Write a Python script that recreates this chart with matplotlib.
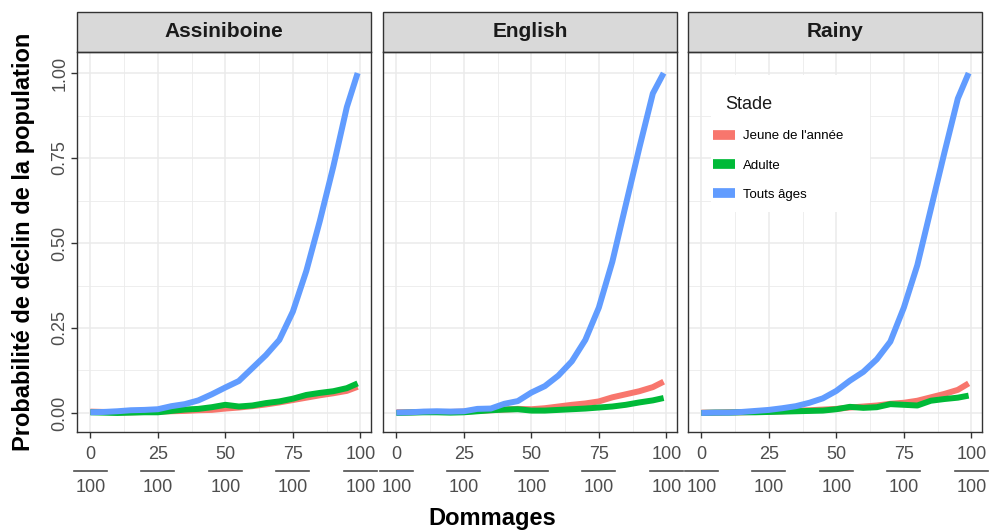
import matplotlib.pyplot as plt
import matplotlib.transforms as mtransforms
from matplotlib.patches import Rectangle
from matplotlib.lines import Line2D

plt.rcParams['font.family'] = ['Liberation Sans', 'DejaVu Sans']

# Dommages (sur 100) et probabilités de déclin par rivière et par stade
dommages = [0, 5, 10, 15, 20, 25, 30, 35, 40, 45, 50, 55, 60, 65, 70, 75, 80, 85, 90, 95, 99]
rivieres = ['Assiniboine', 'English', 'Rainy']
stades = ["Jeune de l'année", 'Adulte', 'Touts âges']
couleurs = ['#F8766D', '#00BA38', '#619CFF']

assiniboine_jeune = [0.004, 0.003, 0.002, 0.002, 0.003, 0.004, 0.005, 0.006, 0.008, 0.009, 0.013,
                     0.016, 0.020, 0.025, 0.031, 0.038, 0.045, 0.052, 0.058, 0.065, 0.077]
assiniboine_adulte = [0.002, 0.001, 0.000, 0.001, 0.002, 0.002, 0.006, 0.010, 0.012, 0.017, 0.024,
                      0.019, 0.022, 0.029, 0.034, 0.042, 0.053, 0.059, 0.064, 0.073, 0.087]
assiniboine_tous = [0.002, 0.003, 0.005, 0.008, 0.009, 0.011, 0.020, 0.026, 0.037, 0.055, 0.075,
                    0.094, 0.132, 0.170, 0.215, 0.298, 0.418, 0.565, 0.725, 0.900, 1.000]

english_jeune = [0.002, 0.002, 0.003, 0.003, 0.003, 0.004, 0.006, 0.008, 0.010, 0.012, 0.011,
                 0.014, 0.019, 0.024, 0.028, 0.034, 0.046, 0.055, 0.064, 0.076, 0.092]
english_adulte = [0.000, 0.001, 0.002, 0.002, 0.001, 0.002, 0.005, 0.008, 0.010, 0.011, 0.007,
                  0.007, 0.009, 0.011, 0.013, 0.016, 0.019, 0.024, 0.031, 0.037, 0.044]
english_tous = [0.001, 0.002, 0.004, 0.005, 0.004, 0.005, 0.012, 0.013, 0.027, 0.035, 0.060,
                0.079, 0.110, 0.152, 0.215, 0.310, 0.445, 0.613, 0.780, 0.940, 1.000]

rainy_jeune = [0.001, 0.001, 0.002, 0.002, 0.003, 0.004, 0.005, 0.007, 0.008, 0.010, 0.012,
               0.016, 0.019, 0.022, 0.027, 0.030, 0.036, 0.046, 0.056, 0.068, 0.087]
rainy_adulte = [0.000, 0.001, 0.001, 0.002, 0.002, 0.003, 0.004, 0.005, 0.006, 0.007, 0.011,
                0.018, 0.015, 0.017, 0.026, 0.024, 0.022, 0.036, 0.041, 0.045, 0.051]
rainy_tous = [0.000, 0.001, 0.001, 0.003, 0.006, 0.009, 0.014, 0.020, 0.030, 0.043, 0.065,
              0.095, 0.121, 0.158, 0.210, 0.310, 0.435, 0.600, 0.765, 0.925, 1.000]

series = {
    'Assiniboine': [assiniboine_jeune, assiniboine_adulte, assiniboine_tous],
    'English': [english_jeune, english_adulte, english_tous],
    'Rainy': [rainy_jeune, rainy_adulte, rainy_tous],
}

x_ticks = [0, 25, 50, 75, 100]
y_ticks = [0.0, 0.25, 0.5, 0.75, 1.0]
y_labels = ['0.00', '0.25', '0.50', '0.75', '1.00']

fig = plt.figure(figsize=(9.9, 5.31), dpi=100)

W, H = 990, 531
panel_left = [77, 383, 688]
panel_w = 294
panel_top, panel_bot = 52, 432
strip_h = 40 / (panel_bot - panel_top)

axes = []
for i, riv in enumerate(rivieres):
    ax = fig.add_axes([panel_left[i] / W, (H - panel_bot) / H,
                       panel_w / W, (panel_bot - panel_top) / H])
    axes.append(ax)
    ax.set_xlim(-4.95, 103.95)
    ax.set_ylim(-0.056, 1.062)
    ax.set_axisbelow(True)

    ax.set_xticks(x_ticks)
    ax.set_xticks([12.5, 37.5, 62.5, 87.5], minor=True)
    ax.set_yticks(y_ticks)
    ax.set_yticks([0.125, 0.375, 0.625, 0.875], minor=True)
    ax.grid(which='major', color='#EBEBEB', lw=1.1)
    ax.grid(which='minor', color='#EBEBEB', lw=0.6)
    ax.tick_params(which='minor', length=0)
    ax.tick_params(axis='x', length=4, width=1, color='#333333',
                   labelcolor='#4D4D4D', labelsize=13, pad=6)
    ax.set_xticklabels([str(t) for t in x_ticks])

    if i == 0:
        ax.tick_params(axis='y', length=4, width=1, color='#333333',
                       labelcolor='#4D4D4D', labelsize=13, pad=2)
        ax.set_yticklabels(y_labels, rotation=90, va='center')
    else:
        ax.tick_params(axis='y', length=0, labelleft=False)

    for s in ax.spines.values():
        s.set_color('#333333')
        s.set_linewidth(1.0)

    # dénominateur des fractions sous chaque graduation
    trans = mtransforms.blended_transform_factory(ax.transData, ax.transAxes)
    for t in x_ticks:
        ax.plot([t - 6.1, t + 6.1], [-0.103, -0.103], transform=trans,
                color='#4D4D4D', lw=1.2, clip_on=False)
        ax.text(t, -0.147, '100', transform=trans, ha='center', va='center',
                fontsize=13, color='#4D4D4D')

    # bandeau du titre de facette
    ax.add_patch(Rectangle((0, 1), 1, strip_h, transform=ax.transAxes,
                           facecolor='#D9D9D9', edgecolor='#333333', lw=1.0,
                           clip_on=False))
    ax.text(0.5, 1 + strip_h / 2, riv, transform=ax.transAxes, ha='center',
            va='center', fontsize=15, fontweight='bold', color='#1A1A1A')

    for vals, c in zip(series[riv], couleurs):
        ax.plot(dommages, vals, color=c, lw=4.3, solid_capstyle='butt',
                solid_joinstyle='round', zorder=3)

# légende dans le panneau Rainy
ax3 = axes[2]
ax3.add_patch(Rectangle((0.078, 0.579), 0.541, 0.36, transform=ax3.transAxes,
                        facecolor='white', edgecolor='none', zorder=1))
ax3.text(0.126, 0.861, 'Stade', transform=ax3.transAxes, ha='left', va='center',
         fontsize=13, color='#1A1A1A', zorder=4)
handles = [Line2D([], [], color=c, lw=7, solid_capstyle='butt') for c in couleurs]
ax3.legend(handles, stades, loc='upper left', bbox_to_anchor=(0.085, 0.795),
           frameon=False, fontsize=9.5, handlelength=1.7, handletextpad=0.6,
           labelspacing=1.3, borderpad=0, borderaxespad=0)

fig.text(0.024, (H - (panel_top + panel_bot) / 2) / H,
         'Probabilité de déclin de la population', rotation=90,
         ha='center', va='center', fontsize=17, fontweight='bold')
fig.text(0.497, 13 / H, 'Dommages', ha='center', va='center',
         fontsize=17, fontweight='bold')

fig.savefig('out.png', dpi=100)
